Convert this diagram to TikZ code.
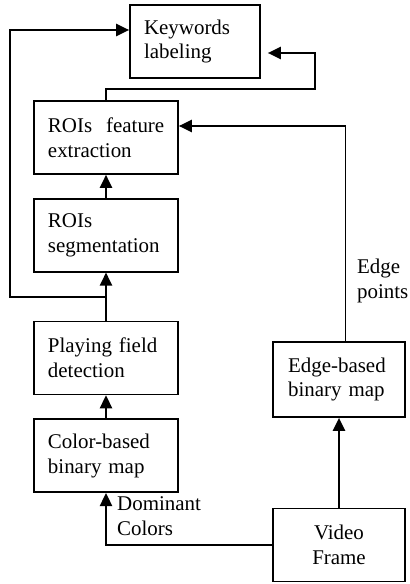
\documentclass[tikz,border=0pt]{standalone}
\usepackage{fontspec}
\setmainfont{Liberation Serif}
\usetikzlibrary{positioning, arrows.meta, calc}

\begin{document}
\begin{tikzpicture}[x=0.573pt, y=-0.573pt, node distance=13.2pt and 2cm,
	font=\fontsize{12}{14.3}\selectfont,
	block/.style={draw, line width=1pt, minimum height=41.8pt, inner xsep=8pt, align=left},
	leftblock/.style={block, minimum width=82.5pt, text width=66.5pt},
	rightblock/.style={block, minimum width=75.6pt, text width=58.4pt},
	arrow/.style={-{Triangle[length=7.5pt, width=7pt]}, line width=1.1pt}]
	\useasboundingbox (0,0) rectangle (410,584);
	% Components
	\node[block, minimum width=74.5pt, text width=58.4pt] (keywords) at (195,41.5) {Keywords\\labeling};
	\node[leftblock] (features) at (106,137.5) {\mbox{ROIs\ \ feature}\\extraction};
	\node[leftblock, below=of features] (segment) {ROIs\\segmentation};
	\node[leftblock, below=27.5pt of segment] (field) {Playing field\\detection};
	\node[leftblock, below=of field] (colormap) {Color-based\\binary map};
	\node[rightblock, minimum height=43pt] (edgemap) at (339,379.5) {Edge-based\\binary map};
	\node[rightblock, align=center] (video) at (339,545) {Video\\Frame};
	
	% Connections
	\draw[arrow] (colormap) -- (field);
	\draw[arrow] (field) -- (segment);
	\draw[arrow] (segment) -- (features);
	\coordinate (split) at ($(field.north)!0.5!(segment.south)$);
	\coordinate (leftbend) at (10,30);
	\draw[arrow] (split) -| (leftbend) -- (leftbend -| keywords.west);
	\coordinate (rightbend) at (315,89);
	\draw[arrow] (features.north) |- (rightbend) |- ($(keywords.east)+(7,11.5)$);
	\draw[arrow] ([xshift=3.7pt]edgemap.north) |- ($(features.east)+(0,-11.5)$);
	\draw[arrow] (video) -- (edgemap);
	\draw[arrow] (video.west) -| (colormap.south);
	
	% Labels
	\node[anchor=west, align=left] (edgelabel) at (351,281) {Edge\\points};
	\node[anchor=west, align=left] (colorlabel) at (111,516) {Dominant\\Colors};
\end{tikzpicture}
\end{document}
